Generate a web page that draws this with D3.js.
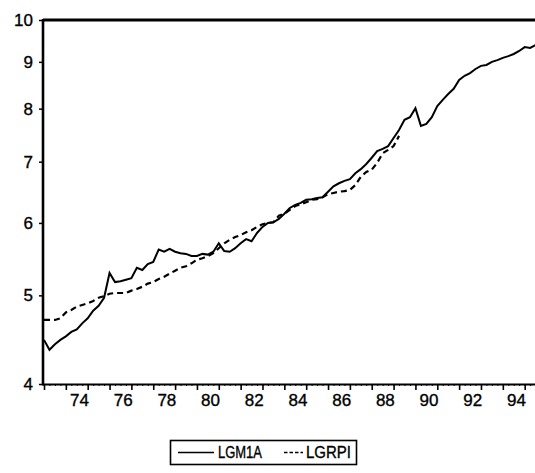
<!DOCTYPE html>
<html>
<head>
<meta charset="utf-8">
<script src="https://cdn.jsdelivr.net/npm/d3@7"></script>
<style>
  html, body { margin: 0; padding: 0; background: #fff; }
  svg { display: block; font-family: "Liberation Sans", Arial, sans-serif; }
  svg text { stroke: #000; stroke-width: 0.35px; }
</style>
</head>
<body>
<svg id="chart" width="535" height="473"></svg>
<script>
// ---- data (quarterly, starting 1973Q1) ----
const startYear = 1973;
const lgm1a = [4.47,4.36,4.42,4.47,4.51,4.56,4.59,4.66,4.72,4.81,4.87,4.97,5.29,5.17,5.18,5.20,
  5.22,5.36,5.33,5.41,5.44,5.61,5.58,5.62,5.58,5.56,5.55,5.52,5.52,5.55,5.54,5.58,
  5.70,5.59,5.58,5.63,5.70,5.76,5.73,5.85,5.94,6.00,6.01,6.06,6.14,6.23,6.28,6.31,
  6.36,6.37,6.39,6.40,6.49,6.58,6.63,6.67,6.70,6.80,6.87,6.96,7.07,7.19,7.23,7.28,
  7.43,7.58,7.78,7.83,8.01,7.66,7.70,7.83,8.05,8.18,8.30,8.41,8.60,8.69,8.75,8.84,
  8.91,8.93,9.00,9.04,9.09,9.13,9.18,9.25,9.34,9.32,9.39];
const lgrpi = [4.70,4.70,4.70,4.72,4.79,4.82,4.86,4.88,4.90,4.93,4.97,4.99,5.02,5.03,5.03,5.03,
  5.06,5.08,5.11,5.15,5.17,5.21,5.24,5.28,5.32,5.36,5.38,5.42,5.47,5.49,5.52,5.56,
  5.63,5.70,5.75,5.79,5.82,5.86,5.89,5.94,5.98,6.00,6.01,6.11,6.14,6.20,6.26,6.29,
  6.32,6.36,6.37,6.40,6.45,6.47,6.49,6.50,6.52,6.60,6.74,6.82,6.86,6.98,7.15,7.21,
  7.28,7.47];
const yTicks = [4,5,6,7,8,9,10];
const xYears = [1974,1976,1978,1980,1982,1984,1986,1988,1990,1992,1994];
const seriesNames = ["LGM1A","LGRPI"];

// ---- layout ----
const svg = d3.select("#chart");
const L = 43, T = 20, B = 384;
const x = d3.scaleLinear().domain([1973, 1995.5]).range([44, 535.6]);
const y = d3.scaleLog().domain([4, 10]).range([B, T]);

svg.append("defs").append("clipPath").attr("id","clip")
  .append("rect").attr("x", L).attr("y", T).attr("width", 540 - L).attr("height", B - T);

// minor quarterly ticks
const quarters = d3.range(1973, 1995.51, 0.25);
svg.append("g").attr("transform", `translate(0,${B})`)
  .call(d3.axisBottom(x).tickValues(quarters).tickSize(2).tickFormat(""))
  .call(g => { g.select(".domain").remove(); g.selectAll("line").attr("stroke","#000").attr("stroke-width",1); });

// yearly ticks
const years = d3.range(1973, 1996);
svg.append("g").attr("transform", `translate(0,${B})`)
  .call(d3.axisBottom(x).tickValues(years).tickSize(6).tickFormat(""))
  .call(g => { g.select(".domain").remove(); g.selectAll("line").attr("stroke","#000").attr("stroke-width",1.6); });

// year labels (centered in year interval)
svg.append("g").attr("transform", `translate(0,${B})`)
  .call(d3.axisBottom(x).tickValues(xYears.map(v => v + 0.6)).tickSize(0).tickPadding(10)
    .tickFormat(v => String(Math.floor(v) % 100)))
  .call(g => {
    g.select(".domain").remove();
    g.selectAll("text").attr("font-size", 17).attr("fill","#000")
      .attr("font-family", "'Liberation Sans', Arial, sans-serif").attr("dy", "0.71em");
  });

// bottom axis line
svg.append("line").attr("x1", L).attr("x2", 535).attr("y1", B + 0.5).attr("y2", B + 0.5)
  .attr("stroke","#000").attr("stroke-width", 2.2);

// left axis
svg.append("g").attr("transform", `translate(${L},0)`)
  .call(d3.axisLeft(y).tickValues(yTicks).tickSize(4).tickPadding(6).tickFormat(d3.format("d")))
  .call(g => {
    g.select(".domain").remove();
    g.selectAll("line").attr("stroke","#000").attr("stroke-width",1.5);
    g.selectAll("text").attr("font-size", 17).attr("fill","#000")
      .attr("font-family", "'Liberation Sans', Arial, sans-serif");
  });
svg.append("line").attr("x1", L).attr("x2", L).attr("y1", T - 1).attr("y2", B + 1.5)
  .attr("stroke","#000").attr("stroke-width", 2.6);

// top frame line
svg.append("line").attr("x1", L).attr("x2", 535).attr("y1", T).attr("y2", T)
  .attr("stroke","#000").attr("stroke-width", 3);

// lines
const line = d3.line().x((d, i) => x(startYear + i / 4)).y(d => y(d));
const plot = svg.append("g").attr("clip-path","url(#clip)");
plot.append("path").datum(lgrpi).attr("d", line)
  .attr("fill","none").attr("stroke","#000").attr("stroke-width",2.2)
  .attr("stroke-dasharray","6,4");
plot.append("path").datum(lgm1a).attr("d", line)
  .attr("fill","none").attr("stroke","#000").attr("stroke-width",2);

// legend
const lg = svg.append("g");
lg.append("rect").attr("x", 170.5).attr("y", 440.5).attr("width", 186).attr("height", 24)
  .attr("fill","#fff").attr("stroke","#000").attr("stroke-width",1.6);
const ly = 452.5;
lg.append("line").attr("x1", 178).attr("x2", 214).attr("y1", ly).attr("y2", ly)
  .attr("stroke","#000").attr("stroke-width",1.6);
lg.append("text").attr("x", 218).attr("y", ly).attr("dy","0.36em")
  .attr("font-size", 16).attr("textLength", 44).attr("lengthAdjust","spacingAndGlyphs")
  .text(seriesNames[0]);
lg.append("line").attr("x1", 284).attr("x2", 303).attr("y1", ly).attr("y2", ly)
  .attr("stroke","#000").attr("stroke-width",1.6).attr("stroke-dasharray","3.5,2");
lg.append("text").attr("x", 306).attr("y", ly).attr("dy","0.36em")
  .attr("font-size", 16).attr("textLength", 45).attr("lengthAdjust","spacingAndGlyphs")
  .text(seriesNames[1]);
</script>
</body>
</html>
